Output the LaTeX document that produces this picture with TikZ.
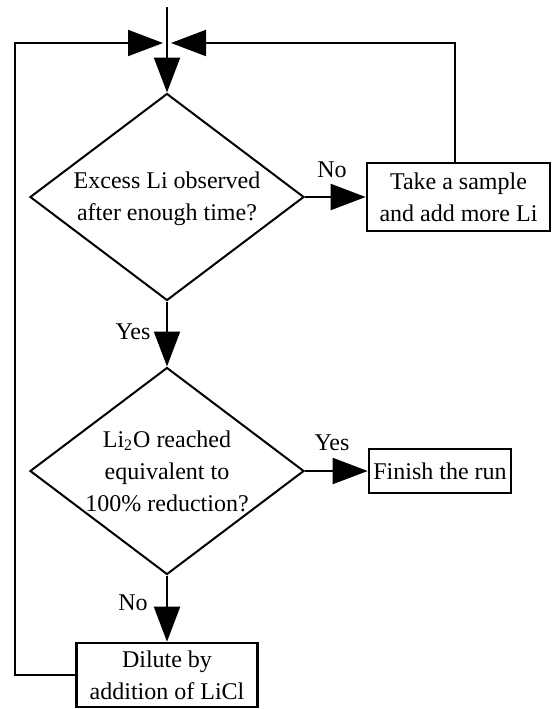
\documentclass[tikz,border=0pt]{standalone}
\usepackage{fontspec}
\setmainfont{Liberation Serif}
\usetikzlibrary{arrows.meta,shapes.geometric}

\tikzset{
	decision/.style={diamond,draw,line width=1pt,inner sep=0pt,minimum width=137pt,minimum height=103.5pt},
	block/.style={rectangle,draw,line width=1.3pt,inner sep=0pt,align=center},
	flow/.style={line width=1pt,-{Triangle[length=17.5pt,width=13pt]}},
	loop/.style={line width=1pt,-{Triangle[length=17.5pt,width=13pt]},shorten >=2pt}
}

\begin{document}
\begin{tikzpicture}[x=0.5pt,y=-0.5pt,font=\fontsize{12}{16}\selectfont]
		\useasboundingbox (0,0) rectangle (552,709);
		
		% decisions
		\node[decision] (excess) at (167,197) {};
		\node[align=center] (excesstext) at (167,199) {Excess Li observed\\after enough time?};
		\node[decision] (reached) at (167,471) {};
		\node[align=center] (reachedtext) at (167,471) {Li\textsubscript{2}O reached\\equivalent to\\100\% reduction?};
		
		% actions
		\node[block,minimum width=91.5pt,minimum height=34pt] (sample) at (458.5,197) {Take a sample\\and add more Li};
		\node[block,minimum width=71pt,minimum height=22pt] (finish) at (440,471) {Finish the run};
		\node[block,minimum width=90.5pt,minimum height=32pt] (dilute) at (167,675) {Dilute by\\addition of LiCl};
		
		% loop points
		\coordinate (start) at (167,7);
		\coordinate (join) at (167,43);
		\coordinate (loopleft) at (15,43);
		\coordinate (loopright) at (455,43);
		
		\draw[flow] (start) -- (excess.north);
		\draw[flow] (excess.east) -- (sample.west);
		\draw[flow] (excess.south) -- (reached.north);
		\draw[flow] (reached.east) -- (finish.west);
		\draw[flow] (reached.south) -- (dilute.north);
		\draw[loop] (dilute.west) -| (loopleft) -- (join);
		\draw[loop] (sample.north -| loopright) -- (loopright) -- (join);
		
		\node (noexcess) at (332,170) {No};
		\node (yesexcess) at (133,332) {Yes};
		\node (yesreached) at (332,443) {Yes};
		\node (noreached) at (133,603) {No};
	\end{tikzpicture}
\end{document}
